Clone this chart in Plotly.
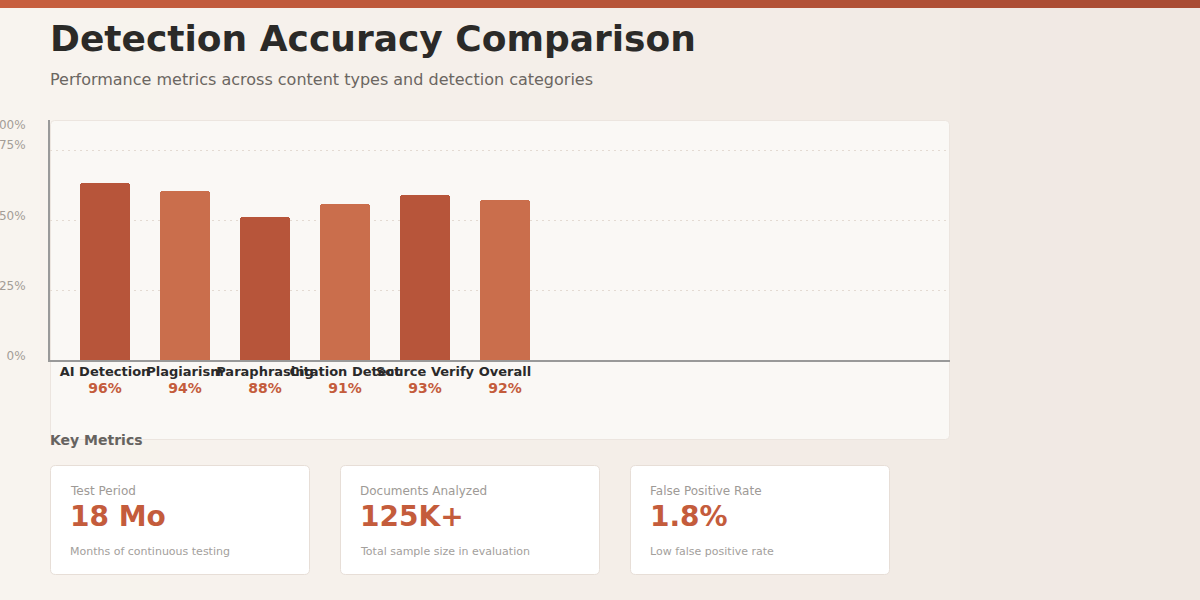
import plotly.graph_objects as go

# ---------------- data ----------------
categories = ["AI Detection", "Plagiarism", "Paraphrasing", "Citation Detect", "Source Verify", "Overall"]
accuracy = [96, 94, 88, 91, 93, 92]
y_tick_labels = ["0%", "25%", "50%", "75%", "100%"]
metric_labels = ["Test Period", "Documents Analyzed", "False Positive Rate"]
metric_values = ["18 Mo", "125K+", "1.8%"]
metric_notes = ["Months of continuous testing", "Total sample size in evaluation", "Low false positive rate"]

W, H = 1200, 600
FONT = "DejaVu Sans"
ORANGE = "#C45C3C"

def px(x):
    return x / W

def py(y):
    return 1 - y / H

# plot area geometry (pixels)
PL, PR, PT, PB = 50, 950, 120, 360
K = 4.22          # pixels per value unit
Y0 = 54.0         # value at the axis baseline
Y1 = Y0 + (PB - PT) / K

def val_at(p):
    return Y0 + (PB - p) / K

label_px = [356, 285.5, 215.5, 145, 125]
grid_px = [290, 220, 150]

bar_colors = ["#B7553A" if i % 2 == 0 else "#CA6E4C" for i in range(len(categories))]
tick_text = [f"<b>{c}</b><br><span style='color:{ORANGE};font-size:14px'><b>{v}%</b></span>"
             for c, v in zip(categories, accuracy)]

fig = go.Figure()
fig.add_trace(go.Bar(
    x=categories, y=accuracy, width=0.625,
    marker=dict(color=bar_colors, line=dict(width=0), cornerradius=3),
    hoverinfo="skip", showlegend=False,
))

shapes = []
def lerp(c1, c2, t):
    a = [int(c1[i:i + 2], 16) for i in (1, 3, 5)]
    b = [int(c2[i:i + 2], 16) for i in (1, 3, 5)]
    return "#%02x%02x%02x" % tuple(round(a[j] + (b[j] - a[j]) * t) for j in range(3))

N = 30
for i in range(N):
    x0, x1 = W * i / N, W * (i + 1) / N + 3
    shapes.append(dict(type="rect", xref="paper", yref="paper", x0=px(x0), x1=px(x1),
                       y0=0, y1=1, fillcolor=lerp("#F8F4EF", "#F0E8E2", (i + 0.5) / N),
                       line=dict(width=0), layer="below"))
    shapes.append(dict(type="rect", xref="paper", yref="paper", x0=px(x0), x1=px(x1),
                       y0=py(8), y1=1, fillcolor=lerp("#C85F3F", "#A84B33", (i + 0.5) / N),
                       line=dict(width=0), layer="below"))

def rrect(x0, y0, x1, y1, r, fill, line):
    rx, ry = r / W, r / H
    X0, X1, Ya, Yb = px(x0), px(x1), py(y1), py(y0)
    path = (f"M {X0+rx},{Ya} L {X1-rx},{Ya} Q {X1},{Ya} {X1},{Ya+ry} L {X1},{Yb-ry} "
            f"Q {X1},{Yb} {X1-rx},{Yb} L {X0+rx},{Yb} Q {X0},{Yb} {X0},{Yb-ry} "
            f"L {X0},{Ya+ry} Q {X0},{Ya} {X0+rx},{Ya} Z")
    return dict(type="path", xref="paper", yref="paper", path=path, fillcolor=fill,
                line=dict(color=line, width=1), layer="below")

shapes.append(rrect(50.5, 120.5, 949.5, 439.5, 4, "#FAF8F5", "#ECE5DF"))
card_x = [50, 340, 630]
for cx in card_x:
    shapes.append(rrect(cx + 0.5, 465.5, cx + 259.5, 574.5, 5, "#FFFFFF", "#E7DED7"))

annotations = [
    dict(text="<b>Detection Accuracy Comparison</b>", x=px(48), y=py(39), xref="paper", yref="paper",
         xanchor="left", yanchor="middle", showarrow=False, font=dict(family=FONT, size=36, color="#2B2A28")),
    dict(text="Performance metrics across content types and detection categories", x=px(48), y=py(80),
         xref="paper", yref="paper", xanchor="left", yanchor="middle", showarrow=False,
         font=dict(family=FONT, size=16, color="#6B6661")),
    dict(text="<b>Key Metrics</b>", x=px(48), y=py(440), xref="paper", yref="paper",
         xanchor="left", yanchor="middle", showarrow=False, font=dict(family=FONT, size=14, color="#666360")),
]
for cx, lab, val, note in zip(card_x, metric_labels, metric_values, metric_notes):
    annotations.append(dict(text=lab, x=px(cx + 18), y=py(491), xref="paper", yref="paper",
                            xanchor="left", yanchor="middle", showarrow=False,
                            font=dict(family=FONT, size=12, color="#9E9A96")))
    annotations.append(dict(text=f"<b>{val}</b>", x=px(cx + 18), y=py(516), xref="paper", yref="paper",
                            xanchor="left", yanchor="middle", showarrow=False,
                            font=dict(family=FONT, size=28, color=ORANGE)))
    annotations.append(dict(text=note, x=px(cx + 18), y=py(551), xref="paper", yref="paper",
                            xanchor="left", yanchor="middle", showarrow=False,
                            font=dict(family=FONT, size=11, color="#A3A09C")))

fig.update_layout(
    width=W, height=H, margin=dict(l=0, r=0, t=0, b=0, autoexpand=False),
    paper_bgcolor="#F4EFEA", plot_bgcolor="rgba(0,0,0,0)",
    font=dict(family=FONT),
    shapes=shapes, annotations=annotations,
    bargap=0,
    xaxis=dict(domain=[px(PL), px(PR)], type="category",
               range=[-(105 - PL) / 80, (PR - 105) / 80],
               tickvals=categories, ticktext=tick_text, tickangle=0, automargin=False,
               tickfont=dict(family=FONT, size=13, color="#2A2A2A"), ticklabelstandoff=-2,
               showline=True, linecolor="#999999", linewidth=2, showgrid=False, zeroline=False,
               ticks="", fixedrange=True),
    yaxis=dict(domain=[py(PB), py(PT)], range=[Y0, Y1], automargin=False,
               tickvals=[val_at(p) for p in label_px], ticktext=y_tick_labels,
               tickfont=dict(family=FONT, size=12, color="#A39D97"),
               showline=True, linecolor="#999999", linewidth=2, showgrid=False, zeroline=False,
               ticks="", ticklabelstandoff=20,
               minor=dict(tickvals=[val_at(p) for p in grid_px], showgrid=True,
                          gridcolor="#E3DAD2", griddash="2px,4px", gridwidth=1, ticks=""),
               fixedrange=True),
)

fig.write_html("out.html")
